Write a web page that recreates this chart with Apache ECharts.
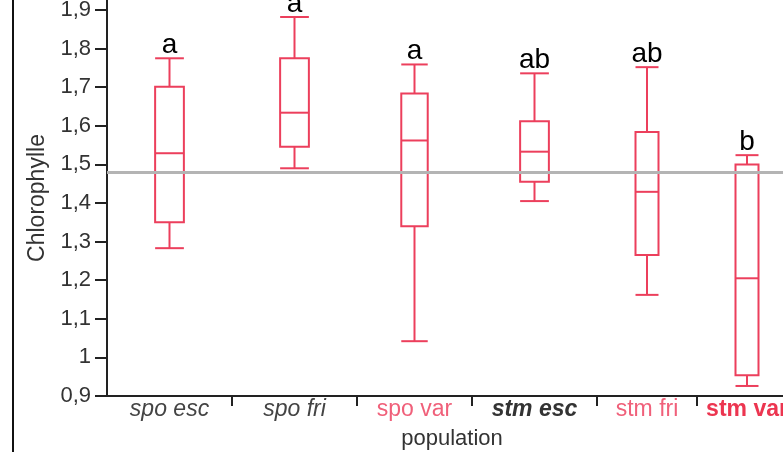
<!DOCTYPE html>
<html>
<head>
<meta charset="utf-8">
<script src="https://cdn.jsdelivr.net/npm/echarts@6/dist/echarts.min.js"></script>
<style>
  html, body { margin: 0; padding: 0; background: #fff; }
  #main { width: 783px; height: 452px; }
</style>
</head>
<body>
<div id="main"></div>
<script>
// populations, group sizes (JMP draws each group as wide as its n)
var categories = ['spo esc', 'spo fri', 'spo var', 'stm esc', 'stm fri', 'stm var'];
var counts = [25, 25, 23, 25, 20, 20];

// box values
var whiskLow = [1.283, 1.490, 1.042, 1.405, 1.162, 0.926];
var q1       = [1.350, 1.546, 1.340, 1.455, 1.265, 0.954];
var median   = [1.529, 1.634, 1.562, 1.533, 1.429, 1.205];
var q3       = [1.701, 1.775, 1.684, 1.612, 1.584, 1.500];
var whiskHigh = [1.775, 1.882, 1.759, 1.736, 1.752, 1.524];
var letters  = ['a', 'a', 'a', 'ab', 'ab', 'b'];
var grandMean = 1.481;

var boxColor = '#ec3f5c';
var font = 'Liberation Sans';

// edges & centres of each group on the x scale
var edges = [0];
counts.forEach(function (n) { edges.push(edges[edges.length - 1] + n); });
var centers = counts.map(function (n, i) { return edges[i] + n / 2; });
var total = edges[edges.length - 1];

var data = categories.map(function (c, i) {
    return [centers[i], whiskLow[i], q1[i], median[i], q3[i], whiskHigh[i], counts[i], i];
});

function renderBox(params, api) {
    var x = api.value(0);
    var i = api.value(7);
    var bw = api.size([api.value(6) * 0.23, 0])[0];
    var lo = api.coord([x, api.value(1)]);
    var b1 = api.coord([x, api.value(2)]);
    var md = api.coord([x, api.value(3)]);
    var b3 = api.coord([x, api.value(4)]);
    var hi = api.coord([x, api.value(5)]);
    var cx = lo[0], l = cx - bw / 2, r = cx + bw / 2;
    var st = { stroke: boxColor, lineWidth: 2, fill: null };
    return {
        type: 'group',
        children: [
            { type: 'rect', shape: { x: l, y: b3[1], width: bw, height: b1[1] - b3[1] }, style: st },
            { type: 'line', shape: { x1: l, y1: md[1], x2: r, y2: md[1] }, style: st },
            { type: 'line', shape: { x1: cx, y1: b3[1], x2: cx, y2: hi[1] }, style: st },
            { type: 'line', shape: { x1: cx, y1: b1[1], x2: cx, y2: lo[1] }, style: st },
            { type: 'line', shape: { x1: l, y1: hi[1], x2: r, y2: hi[1] }, style: st },
            { type: 'line', shape: { x1: l, y1: lo[1], x2: r, y2: lo[1] }, style: st },
            {
                type: 'text', x: cx, y: hi[1] + 1,
                style: {
                    text: letters[i], align: 'center', verticalAlign: 'bottom',
                    fontFamily: font, fontSize: 28, fill: '#000'
                }
            }
        ]
    };
}

var chart = echarts.init(document.getElementById('main'));

chart.setOption({
    animation: false,
    backgroundColor: '#fff',
    grid: { left: 107, right: -14, top: 0, bottom: 56, outerBoundsMode: 'none' },
    graphic: [{
        type: 'line',
        shape: { x1: 13, y1: 0, x2: 13, y2: 452 },
        style: { stroke: '#111', lineWidth: 2 }
    }],
    xAxis: {
        type: 'value',
        min: 0,
        max: total,
        name: 'population',
        nameLocation: 'middle',
        nameGap: 32,
        nameTextStyle: { fontFamily: font, fontSize: 22, color: '#333' },
        splitLine: { show: false },
        axisLine: { lineStyle: { color: '#222', width: 2 } },
        axisTick: {
            customValues: edges.slice(1, -1),
            length: 10,
            lineStyle: { color: '#222', width: 2 }
        },
        axisLabel: {
            customValues: centers,
            margin: 2,
            formatter: function (v) {
                var i = centers.indexOf(v);
                return '{s' + i + '|' + categories[i] + '}';
            },
            rich: {
                s0: { fontFamily: font, fontSize: 23, fontStyle: 'italic', color: '#444' },
                s1: { fontFamily: font, fontSize: 23, fontStyle: 'italic', color: '#444' },
                s2: { fontFamily: font, fontSize: 23, color: '#f0607a' },
                s3: { fontFamily: font, fontSize: 23, fontStyle: 'italic', fontWeight: 'bold', color: '#333' },
                s4: { fontFamily: font, fontSize: 23, color: '#f0607a' },
                s5: { fontFamily: font, fontSize: 23, fontWeight: 'bold', color: '#ec3550' }
            }
        }
    },
    yAxis: {
        type: 'value',
        min: 0.9,
        max: 1.926,
        interval: 0.1,
        name: 'Chlorophylle',
        nameLocation: 'middle',
        nameGap: 57,
        nameTextStyle: { fontFamily: font, fontSize: 23, color: '#333' },
        splitLine: { show: false },
        axisLine: { show: true, lineStyle: { color: '#222', width: 2 } },
        axisTick: { show: true, length: 12, lineStyle: { color: '#222', width: 2 } },
        axisLabel: {
            margin: 16,
            showMaxLabel: false,
            fontFamily: font,
            fontSize: 22,
            color: '#333',
            formatter: function (v) { return String(Math.round(v * 10) / 10).replace('.', ','); }
        }
    },
    series: [{
        type: 'custom',
        renderItem: renderBox,
        encode: { x: 0, y: [1, 2, 3, 4, 5] },
        data: data,
        z: 3,
        markLine: {
            silent: true,
            symbol: 'none',
            label: { show: false },
            lineStyle: { color: '#b4b4b4', width: 3, type: 'solid' },
            data: [{ yAxis: grandMean }]
        }
    }]
});
</script>
</body>
</html>
